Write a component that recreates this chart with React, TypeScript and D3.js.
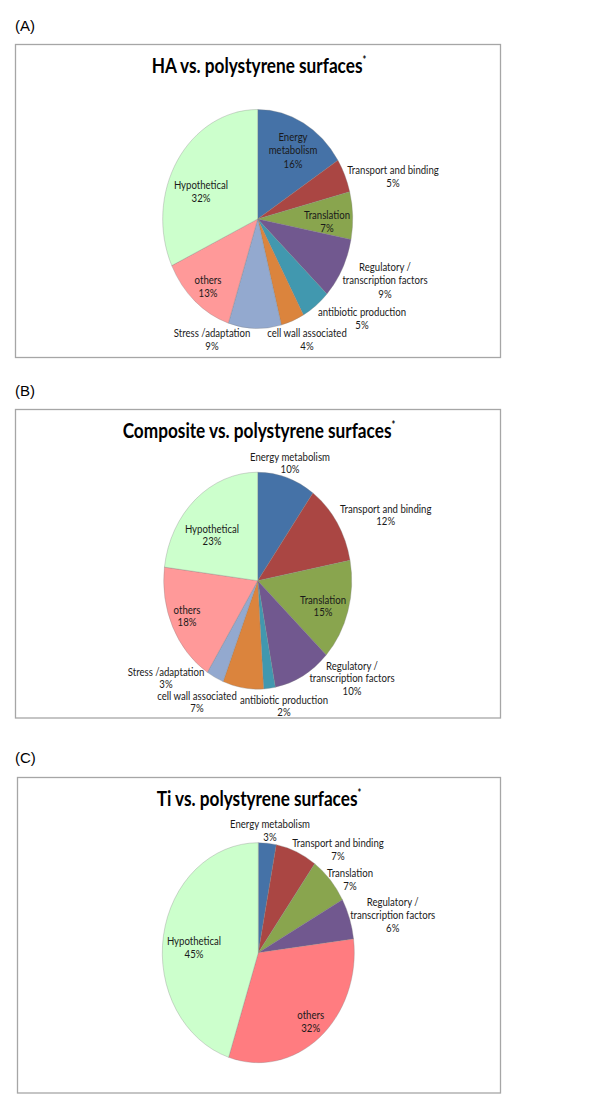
import React from "react";
import * as d3 from "d3";

// categories, clockwise from 12 o'clock
const categories = [
  "Energy metabolism",
  "Transport and binding",
  "Translation",
  "Regulatory / transcription factors",
  "antibiotic production",
  "cell wall associated",
  "Stress /adaptation",
  "others",
  "Hypothetical",
];
const haValues = [16, 5, 7, 9, 5, 4, 9, 13, 32];
const compositeValues = [10, 12, 15, 10, 2, 7, 3, 18, 23];

const tiCategories = [
  "Energy metabolism",
  "Transport and binding",
  "Translation",
  "Regulatory / transcription factors",
  "others",
  "Hypothetical",
];
const tiValues = [3, 7, 7, 6, 32, 45];

const panelTags = ["(A)", "(B)", "(C)"];
const titles = [
  "HA vs. polystyrene surfaces",
  "Composite vs. polystyrene surfaces",
  "Ti vs. polystyrene surfaces",
];

const colors: Record<string, string> = {
  "Energy metabolism": "#4572A7",
  "Transport and binding": "#AA4643",
  Translation: "#89A54E",
  "Regulatory / transcription factors": "#71588F",
  "antibiotic production": "#4198AF",
  "cell wall associated": "#DB843D",
  "Stress /adaptation": "#93A9CF",
  others: "#FF9999",
  Hypothetical: "#CCFFCC",
};
const tiOthersColor = "#FF7C80";

// how each label breaks into lines
const breaks: Record<string, string[]> = {
  "Regulatory / transcription factors": ["Regulatory /", "transcription factors"],
};

const FONT = "Lato, 'Open Sans', sans-serif";
const SQX = 0.8; // horizontal squeeze of the label text
const SQT = 0.82; // and of the titles

type Panel = {
  tag: string;
  title: string;
  names: string[];
  values: number[];
  tagY: number;
  box: { x: number; y: number; w: number; h: number };
  titleY: number;
  cx: number;
  cy: number;
  rx: number;
  ry: number;
  lh: number;
  labelPos: Record<string, [number, number]>;
  wrapEnergy?: boolean;
  othersColor?: string;
};

const panels: Panel[] = [
  {
    tag: panelTags[0],
    title: titles[0],
    names: categories,
    values: haValues,
    tagY: 31,
    box: { x: 15.5, y: 44.5, w: 485, h: 313 },
    titleY: 73,
    cx: 257.7,
    cy: 219,
    rx: 95,
    ry: 109.5,
    lh: 13.3,
    wrapEnergy: true,
    labelPos: {
      "Energy metabolism": [293, 137],
      "Transport and binding": [393, 170],
      Translation: [327, 215],
      "Regulatory / transcription factors": [385, 267],
      "antibiotic production": [362, 312],
      "cell wall associated": [307, 333],
      "Stress /adaptation": [212, 333],
      others: [208, 280],
      Hypothetical: [201, 185],
    },
  },
  {
    tag: panelTags[1],
    title: titles[1],
    names: categories,
    values: compositeValues,
    tagY: 396,
    box: { x: 15.5, y: 409.5, w: 485, h: 308.5 },
    titleY: 438,
    cx: 257.7,
    cy: 580.7,
    rx: 94,
    ry: 108.5,
    lh: 12.4,
    labelPos: {
      "Energy metabolism": [290, 457],
      "Transport and binding": [385.7, 509],
      Translation: [323, 600],
      "Regulatory / transcription factors": [352, 666],
      "antibiotic production": [284, 700],
      "cell wall associated": [197, 696],
      "Stress /adaptation": [166, 672],
      others: [187, 610],
      Hypothetical: [212, 529],
    },
  },
  {
    tag: panelTags[2],
    title: titles[2],
    names: tiCategories,
    values: tiValues,
    tagY: 763,
    box: { x: 17.5, y: 777.5, w: 483, h: 315.5 },
    titleY: 806,
    cx: 258.3,
    cy: 952.7,
    rx: 96,
    ry: 110,
    lh: 13,
    othersColor: tiOthersColor,
    labelPos: {
      "Energy metabolism": [270, 824],
      "Transport and binding": [338, 843],
      Translation: [350, 872.7],
      "Regulatory / transcription factors": [392.7, 902],
      others: [310.7, 1015],
      Hypothetical: [194, 941],
    },
  },
];

const PiePanel = ({ p }: { p: Panel }) => {
  const data = p.names.map((n, i) => ({ name: n, value: p.values[i] }));
  const arcs = d3.pie<{ name: string; value: number }>().sort(null).value((d) => d.value)(data);
  const arc = d3.arc<d3.PieArcDatum<{ name: string; value: number }>>().innerRadius(0).outerRadius(p.ry);

  const linesFor = (name: string, v: number) => {
    let parts = breaks[name] || [name];
    if (name === "Energy metabolism" && p.wrapEnergy) parts = ["Energy", "metabolism"];
    return [...parts, `${v}%`];
  };

  return (
    <g>
      <text x={15} y={p.tagY} fontFamily="'Liberation Sans', Arial, sans-serif" fontSize={15} fill="#000">
        {p.tag}
      </text>
      <rect x={p.box.x} y={p.box.y} width={p.box.w} height={p.box.h} fill="#fff" stroke="#A6A6A6" strokeWidth={1.3} />
      <text
        transform={`translate(259,${p.titleY}) scale(${SQT},1)`}
        textAnchor="middle"
        fontFamily={FONT}
        fontWeight="bold"
        fontSize={21}
        fill="#000"
      >
        {p.title}
        <tspan fontSize={11} dy={-9}>*</tspan>
      </text>
      <g transform={`translate(${p.cx},${p.cy}) scale(${p.rx / p.ry},1)`}>
        {arcs.map((a) => (
          <path
            key={a.data.name}
            d={arc(a) || ""}
            fill={a.data.name === "others" && p.othersColor ? p.othersColor : colors[a.data.name]}
            stroke="#7f7f7f"
            strokeOpacity={0.45}
            strokeWidth={0.7}
            vectorEffect="non-scaling-stroke"
          />
        ))}
      </g>
      {arcs.map((a) => {
        const [x, y] = p.labelPos[a.data.name];
        const lines = linesFor(a.data.name, a.data.value);
        return (
          <text
            key={`l-${a.data.name}`}
            transform={`translate(${x},${y + 4}) scale(${SQX},1)`}
            textAnchor="middle"
            fontFamily={FONT}
            fontSize={12}
            fill="#1a1a1a"
          >
            {lines.map((ln, i) => (
              <tspan key={i} x={0} y={i * p.lh}>
                {ln}
              </tspan>
            ))}
          </text>
        );
      })}
    </g>
  );
};

export default function App() {
  return (
    <svg width={600} height={1117} style={{ position: "absolute", left: 0, top: 0, background: "#fff" }}>
      <rect width={600} height={1117} fill="#fff" />
      {panels.map((p) => (
        <PiePanel key={p.tag} p={p} />
      ))}
    </svg>
  );
}
